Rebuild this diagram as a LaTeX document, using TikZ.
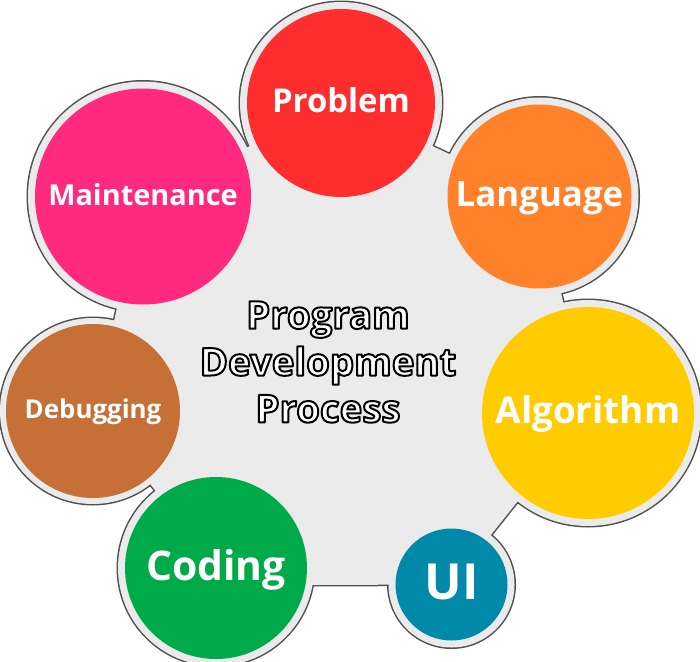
\documentclass[tikz,border=0pt]{standalone}
\usepackage{fontspec}
\setmainfont{Open Sans}
\usetikzlibrary{backgrounds}

\definecolor{problemred}{RGB}{255,45,45}
\definecolor{langorange}{RGB}{255,130,42}
\definecolor{algoyellow}{RGB}{255,204,0}
\definecolor{uiblue}{RGB}{0,137,168}
\definecolor{codinggreen}{RGB}{0,170,72}
\definecolor{debugbrown}{RGB}{198,112,55}
\definecolor{maintpink}{RGB}{255,41,125}
\definecolor{rimback}{RGB}{235,235,235}
\definecolor{rimgrey}{RGB}{80,80,80}

% white text with a black edge
\newcommand{\outlined}[1]{\special{pdf:literal direct 2 Tr 2 w 1 j 0 0 0 RG}#1\special{pdf:literal direct 0 Tr}}

\tikzset{
  bubble/.style n args={3}{circle, fill=#1, minimum size=#2, inner sep=0pt, text=white,
    font=\bfseries\fontsize{#3}{#3}\selectfont, text height={0.714*#3pt}, text depth={0.12*#3pt}},
  rimline/.style={draw=rimgrey, line width=3bp},
  rimfill/.style={fill=rimback},
  title/.style={align=center, text=white, inner sep=0pt, font=\bfseries\fontsize{38.5}{47}\selectfont}
}

\begin{document}
\begin{tikzpicture}[x=1bp,y=-1bp]
\useasboundingbox (0,0) rectangle (700,662);
\node[bubble={problemred}{188bp}{33}] (problem) at (341,103) {Problem};
\node[bubble={langorange}{184bp}{35}] (language) at (539.5,196.5) {Language};
\node[bubble={algoyellow}{212bp}{37}] (algorithm) at (588,413) {Algorithm};
\node[bubble={uiblue}{112bp}{50}] (ui) at (451.5,584.5) {UI};
\node[bubble={codinggreen}{182bp}{41}] (coding) at (216,568) {Coding};
\node[bubble={debugbrown}{174bp}{26}] (debugging) at (93,411) {Debugging};
\node[bubble={maintpink}{216bp}{29}] (maintenance) at (143,196.5) {Maintenance}; % the seven steps
\coordinate (bend) at (300,585);
\node[title] (heading) at (328,362) {\outlined{Program\\Development\\Process}};
\begin{scope}[on background layer]
\foreach \n/\r in {problem/101,language/99,algorithm/113,ui/63,coding/98,debugging/93,maintenance/115}
  \draw[rimline] (\n.center) circle[radius=\r];
\draw[rimline] (problem.center) -- (language.center) -- (algorithm.center) -- (ui.center)
  -- (bend) -- (coding.center) -- (debugging.center) -- (maintenance.center) -- cycle;
\foreach \n/\r in {problem/101,language/99,algorithm/113,ui/63,coding/98,debugging/93,maintenance/115}
  \fill[rimfill] (\n.center) circle[radius=\r];
\fill[rimfill] (problem.center) -- (language.center) -- (algorithm.center) -- (ui.center)
  -- (bend) -- (coding.center) -- (debugging.center) -- (maintenance.center) -- cycle; % grey backing
\end{scope}
\end{tikzpicture}
\end{document}
